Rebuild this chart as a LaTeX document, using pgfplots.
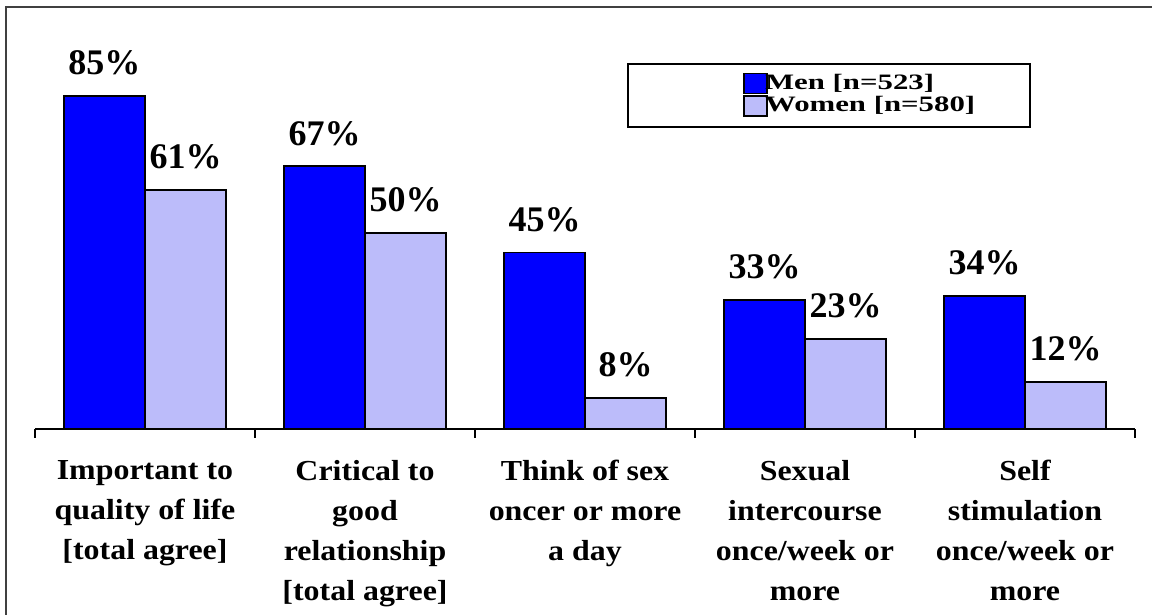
\documentclass[border=0pt]{standalone}
\usepackage{fontspec}
\setmainfont{Liberation Serif}
\newfontfamily\tickfont{Liberation Serif}[FakeStretch=1.1]
\newfontfamily\legfont{Liberation Serif Bold}[FakeStretch=1.4]
\usepackage{pgfplots}
\pgfplotsset{compat=1.18}
\definecolor{menblue}{RGB}{0,0,255}
\definecolor{womenlav}{RGB}{188,188,250}
\pgfplotsset{sqlegend/.style={legend image code/.code={\draw[##1] (0pt,-5pt) rectangle (11.5pt,5pt);}}}
\begin{document}
\begin{tikzpicture}
\useasboundingbox (0,0) rectangle (576pt,307.5pt);
\draw[line width=0.9pt, black!75] (3pt,0) -- (3pt,304pt) -- (576pt,304pt);
\begin{axis}[
  at={(17.5pt,93pt)}, anchor=south west,
  scale only axis, width=550pt, height=196pt,
  xmin=0.5, xmax=5.5, ymin=0, ymax=100,
  clip=false,
  axis x line=bottom, axis y line=none,
  x axis line style={-, line width=0.9pt, black},
  ybar=0pt, bar width=40.5pt,
  /pgf/number format/assume math mode=true,
  xtick={1,2,3,4,5}, major tick length=0pt,
  xticklabels={
    {Important to\\quality of life\\{[}total agree{]}},
    {Critical to\\good\\relationship\\{[}total agree{]}},
    {Think of sex\\oncer or more\\a day},
    {Sexual\\intercourse\\once/week or\\more},
    {Self\\stimulation\\once/week or\\more}},
  xticklabel style={font=\tickfont\bfseries\fontsize{14.5}{20}\selectfont, align=center, anchor=north, yshift=-12pt},
  extra x ticks={0.5,1.5,2.5,3.5,4.5,5.5},
  extra x tick labels={},
  extra x tick style={major tick length=4.5pt, tick align=outside, tick style={line width=0.9pt, black}},
  nodes near coords={\pgfmathprintnumber{\pgfplotspointmeta}\%},
  every node near coord/.append style={font=\bfseries\fontsize{18}{21}\selectfont, anchor=base, yshift=10.5pt, text=black},
  legend style={at={(rel axis cs:0.6436,0.911)}, anchor=north west, draw=none, fill=none, inner sep=0pt, row sep=0pt,
    font=\legfont\fontsize{11}{12.5}\selectfont, nodes={inner sep=1pt},
    /tikz/every odd column/.append style={column sep=-2.5pt}},
  legend cell align=left,
]
\addplot[fill=menblue, draw=black, line width=0.9pt, sqlegend]
  coordinates {(1,85) (2,67) (3,45) (4,33) (5,34)};
\addplot[fill=womenlav, draw=black, line width=0.9pt, sqlegend]
  coordinates {(1,61) (2,50) (3,8) (4,23) (5,12)};
\legend{Men [n=523], Women [n=580]}
\draw[line width=1pt] (rel axis cs:0.539,0.931) rectangle (rel axis cs:0.9045,0.770);
\end{axis}
\end{tikzpicture}
\end{document}
